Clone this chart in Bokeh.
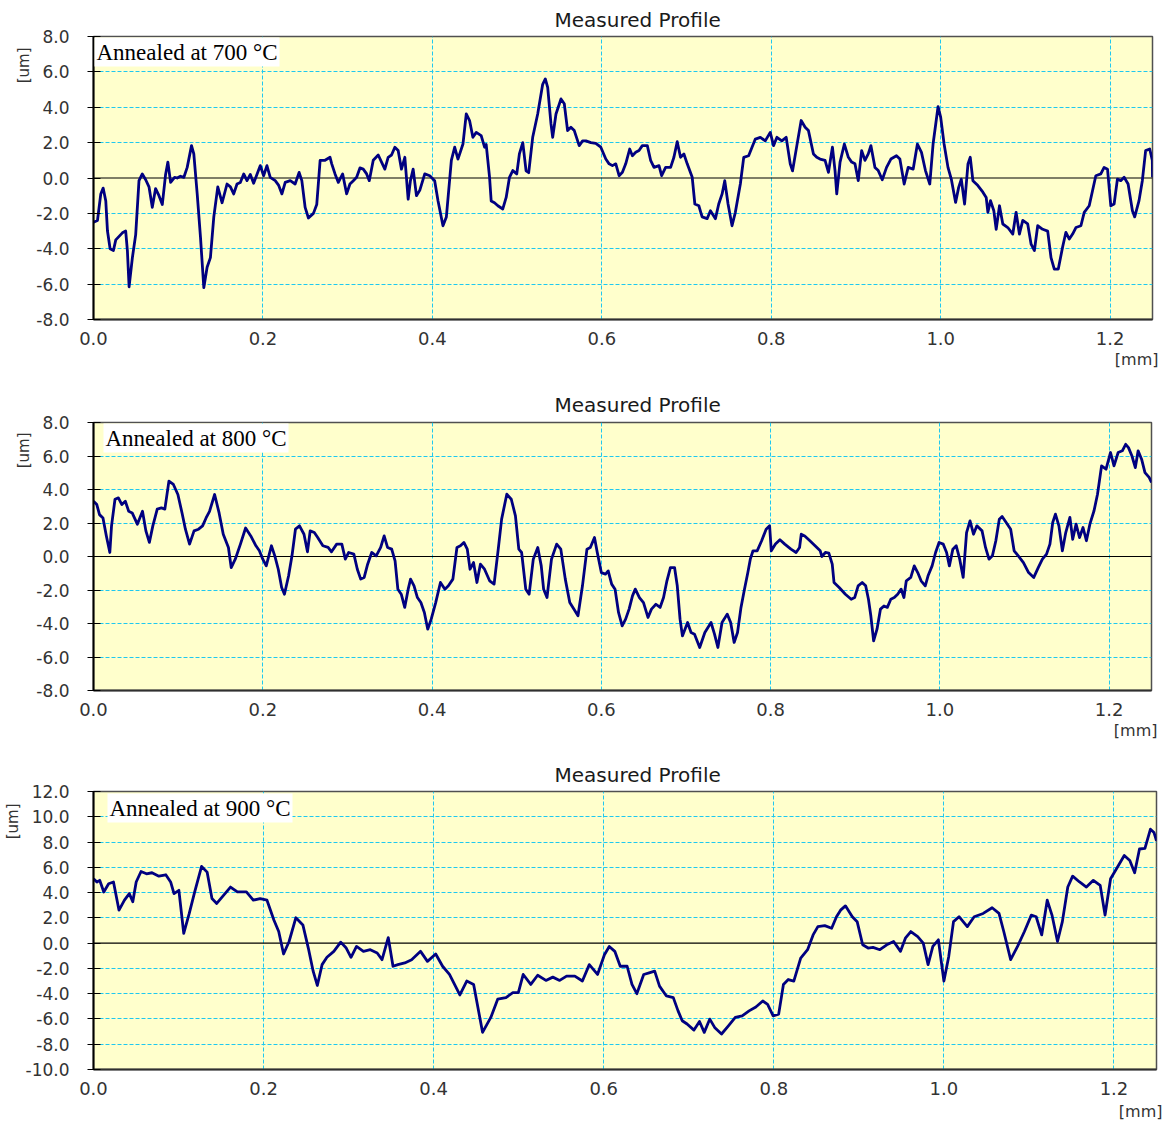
from bokeh.embed import file_html
from bokeh.layouts import column
from bokeh.models import FixedTicker, Label, PrintfTickFormatter, Range1d, Span, Title
from bokeh.plotting import figure
from bokeh.resources import INLINE

# ---- surface profiles, height [um] against distance [mm] ----

x700 = [0.0, 0.0047, 0.0086, 0.0114, 0.0145, 0.0165, 0.0196, 0.0235, 0.0263, 0.0302,
        0.0341, 0.038, 0.04, 0.042, 0.0459, 0.0498, 0.0537, 0.0576, 0.0616, 0.0655,
        0.0694, 0.0733, 0.0773, 0.0812, 0.0851, 0.0878, 0.091, 0.0957, 0.0988, 0.1027,
        0.1067, 0.1106, 0.1157, 0.1184, 0.1224, 0.1263, 0.1302, 0.1341, 0.138, 0.142,
        0.1467, 0.1518, 0.1576, 0.1616, 0.1655, 0.1694, 0.1733, 0.1773, 0.1812, 0.1851,
        0.189, 0.1929, 0.1969, 0.2008, 0.2047, 0.2086, 0.2145, 0.2184, 0.2224, 0.2263,
        0.2322, 0.238, 0.2427, 0.2459, 0.2498, 0.2537, 0.2596, 0.2635, 0.2675, 0.2733,
        0.2792, 0.2812, 0.2851, 0.289, 0.2941, 0.2988, 0.3027, 0.3067, 0.3106, 0.3145,
        0.3184, 0.3224, 0.3255, 0.3302, 0.3361, 0.34, 0.3439, 0.3478, 0.3518, 0.3557,
        0.3596, 0.3635, 0.3675, 0.3714, 0.3741, 0.3773, 0.3812, 0.3851, 0.391, 0.3969,
        0.4027, 0.4067, 0.4125, 0.4165, 0.4224, 0.4263, 0.4302, 0.4361, 0.44, 0.4439,
        0.4478, 0.4518, 0.4576, 0.4616,
        0.4635, 0.4675, 0.4694, 0.4733, 0.4773, 0.4831, 0.4871, 0.491, 0.4949, 0.4996,
        0.5027, 0.5067, 0.5106, 0.5137, 0.5184, 0.5243, 0.5302, 0.5333, 0.5361, 0.54,
        0.542, 0.5459, 0.5518, 0.5557, 0.5596, 0.5635, 0.5675, 0.5733, 0.5773, 0.5812,
        0.5871, 0.5929, 0.5988, 0.6047, 0.6086, 0.6125, 0.6165, 0.6204, 0.6243, 0.6282,
        0.6329, 0.6361, 0.64, 0.6439, 0.6478, 0.6537, 0.6576, 0.6616, 0.6675, 0.6706,
        0.6753, 0.6812, 0.6851, 0.689, 0.6929, 0.6969, 0.7008, 0.7067, 0.7098, 0.7145,
        0.7184, 0.7243, 0.7282, 0.7341, 0.738, 0.742, 0.7451, 0.749, 0.7537, 0.7576,
        0.7635, 0.7675, 0.7733, 0.7773, 0.7812, 0.7871, 0.7929, 0.7988, 0.8027, 0.8067,
        0.8125, 0.8176, 0.8224, 0.8251, 0.8302, 0.8353, 0.84, 0.8439, 0.8498, 0.8537,
        0.8576, 0.8635, 0.8675, 0.8722, 0.8753, 0.8773, 0.8812, 0.8863, 0.891, 0.8949,
        0.8988,
        0.9027, 0.9067, 0.9106, 0.9145, 0.9176, 0.9224, 0.9263, 0.931, 0.9361, 0.9412,
        0.9478, 0.9518, 0.9569, 0.9616, 0.9675, 0.9725, 0.9773, 0.982, 0.9871, 0.991,
        0.9969, 1.0, 1.004, 1.0086, 1.0125, 1.0176, 1.0212, 1.0243, 1.0282, 1.0322,
        1.0349, 1.038, 1.0439, 1.0498, 1.0537, 1.0557, 1.0588, 1.0627, 1.0655, 1.0694,
        1.0733, 1.0792, 1.0851, 1.089, 1.0929, 1.0969, 1.1027, 1.1067, 1.1106, 1.1145,
        1.1204, 1.1263, 1.1302, 1.1341, 1.1388, 1.1439, 1.1478, 1.1518, 1.1557, 1.1596,
        1.1655, 1.1694, 1.1753, 1.1792, 1.1831, 1.189, 1.1929, 1.1969, 1.2008, 1.2047,
        1.2086, 1.2125, 1.2165, 1.2212, 1.2263, 1.229, 1.2341, 1.238, 1.2419, 1.2467,
        1.2498, 1.25]
y700 = [-2.5, -2.4, -0.9, -0.57, -1.3, -3.0, -4.0, -4.1, -3.5, -3.3,
        -3.1, -3.0, -4.1, -6.15, -4.5, -3.2, -0.15, 0.23, -0.1, -0.5,
        -1.66, -0.6, -1.0, -1.5, 0.2, 0.9, -0.25, 0.04, 0.0, 0.1,
        0.04, 0.6, 1.83, 1.36, -0.9, -3.36, -6.2, -5.05, -4.5, -2.2,
        -0.5, -1.4, -0.34, -0.5, -0.9, -0.34, -0.25, 0.23, -0.15, 0.2,
        -0.3, 0.2, 0.7, 0.13, 0.7, 0.04, -0.15, -0.4, -0.9, -0.25,
        -0.15, -0.34, 0.32, -0.15, -1.66, -2.26, -2.0, -1.5, 1.0, 1.0,
        1.17, 0.8, 0.23, -0.25, 0.23, -0.9, -0.34, -0.15, 0.04, 0.57,
        0.5, 0.23, -0.15, 1.0, 1.3, 0.9, 0.5, 1.17, 1.3, 1.74,
        1.55, 0.5, 1.17, -1.2, -0.15, 0.5, -1.0, -0.7, 0.23, 0.13,
        -0.15, -1.3, -2.7, -2.2, 1.0, 1.74, 1.07, 1.92, 3.62, 3.25,
        2.3, 2.58, 2.4, 1.74,
        1.9, 0.04, -1.3, -1.4, -1.57, -1.75, -1.1, 0.04, 0.42, 0.23,
        1.36, 2.0, 0.4, 0.3, 2.3, 3.62, 5.3, 5.6, 5.13, 3.06,
        2.3, 3.62, 4.47, 4.2, 2.68, 2.87, 2.68, 1.83, 2.1, 2.1,
        2.0, 1.96, 1.74, 1.07, 0.8, 0.7, 0.8, 0.13, 0.32, 0.8,
        1.64, 1.26, 1.45, 1.55, 1.83, 1.83, 1.0, 0.6, 0.7, 0.13,
        0.6, 0.6, 1.17, 2.05, 1.17, 1.36, 0.8, 0.04, -1.47, -1.57,
        -2.2, -2.3, -1.85, -2.3, -1.47, -0.9, -0.15, -1.47, -2.7, -1.94,
        -0.34, 1.17, 1.26, 1.74, 2.2, 2.3, 2.1, 2.58, 1.83, 2.3,
        2.1, 2.3, 0.8, 0.4, 1.83, 3.25, 2.87, 2.68, 1.36, 1.17,
        1.07, 1.0, 0.32, 1.74, 0.4, -0.9, 0.9, 1.92, 1.17, 0.9,
        0.8,
        -0.15, 1.55, 1.0, 1.36, 1.83, 0.6, 0.42, -0.1, 0.6, 1.07,
        1.26, 1.07, -0.34, 0.6, 0.5, 1.92, 1.45, 0.42, -0.34, 1.92,
        4.04, 3.43, 1.92, 0.6, -0.06, -1.38, -0.53, -0.06, -1.47, 0.8,
        1.17, -0.15, -0.43, -0.8, -1.1, -1.94, -1.28, -1.85, -2.9, -1.57,
        -2.6, -2.8, -3.17, -1.94, -3.17, -2.4, -2.6, -3.74, -4.1, -2.7,
        -2.9, -3.0, -4.5, -5.15, -5.15, -3.9, -3.07, -3.45, -3.17, -2.8,
        -2.7, -1.94, -1.57, -0.72, 0.13, 0.23, 0.6, 0.5, -1.57, -1.47,
        -0.06, -0.15, 0.04, -0.34, -1.85, -2.2, -1.28, -0.15, 1.55, 1.64,
        1.0, 0.04]

x800 = [0.0, 0.0039, 0.0071, 0.0112, 0.0152, 0.0193, 0.0213, 0.0254, 0.0294, 0.0335,
        0.0376, 0.0416, 0.0457, 0.0518, 0.0579, 0.0619, 0.066, 0.0701, 0.0753, 0.0802,
        0.0843, 0.0891, 0.0944, 0.0997, 0.1046, 0.1086, 0.1135, 0.1188, 0.1241, 0.1289,
        0.133, 0.1371, 0.1431, 0.1484, 0.1533, 0.1594, 0.1627, 0.1675, 0.1736, 0.1797,
        0.1858, 0.1919, 0.196, 0.2, 0.2041, 0.2102, 0.2142, 0.2183, 0.2223, 0.2256,
        0.2305, 0.2345, 0.2386, 0.2434, 0.2487, 0.2528, 0.256, 0.2609, 0.2649, 0.271,
        0.2772, 0.2812, 0.2873, 0.2934, 0.2975, 0.3015, 0.3076, 0.3117, 0.3157, 0.3198,
        0.3239, 0.3287, 0.334, 0.3393, 0.3434, 0.3474, 0.3523, 0.3563, 0.3596, 0.3636,
        0.3677, 0.3718, 0.3746, 0.3787, 0.3827, 0.3868, 0.3909, 0.3949, 0.399, 0.4043,
        0.4099, 0.4152, 0.4193, 0.4246, 0.4294, 0.4335, 0.4376, 0.4416, 0.4449, 0.449,
        0.453, 0.4571, 0.462, 0.468, 0.4733, 0.4782, 0.4822, 0.4883, 0.4936, 0.4985,
        0.5025, 0.5058, 0.5107, 0.5147, 0.5196, 0.5249, 0.529, 0.5318, 0.5358, 0.5411,
        0.5472, 0.5521, 0.5574, 0.5627, 0.5675, 0.5724, 0.5777, 0.583, 0.587, 0.5919,
        0.5952, 0.6, 0.6049, 0.6081, 0.6122, 0.6162, 0.6203,
        0.6246, 0.6287, 0.6328, 0.6368, 0.6401, 0.645, 0.6498, 0.6551, 0.6592, 0.6645,
        0.6694, 0.6735, 0.6775, 0.6816, 0.6865, 0.6897, 0.693, 0.6958, 0.7019, 0.706,
        0.7101, 0.7162, 0.7223, 0.7296, 0.7337, 0.7377, 0.7426, 0.7487, 0.7528, 0.7569,
        0.7609, 0.765, 0.7691, 0.7731, 0.776, 0.7792, 0.7841, 0.7894, 0.7947, 0.7988,
        0.8008, 0.8057, 0.811, 0.8167, 0.824, 0.8301, 0.8342, 0.8362, 0.8403, 0.8464,
        0.8525, 0.8586, 0.8606, 0.8647, 0.8688, 0.8728, 0.8749, 0.881, 0.8883, 0.8952,
        0.8993, 0.9034, 0.9082, 0.9123, 0.9156, 0.9184, 0.9217, 0.9257, 0.9298, 0.9339,
        0.9379, 0.942, 0.9461, 0.9501, 0.9542, 0.9575, 0.9603, 0.9656, 0.9697, 0.9738,
        0.9778, 0.9827, 0.986, 0.9908, 0.9949, 0.999, 1.0039, 1.0079, 1.0112, 1.0153,
        1.0193, 1.0234, 1.0275, 1.0315, 1.0356, 1.0397, 1.0437, 1.0498, 1.0539, 1.058,
        1.062, 1.0661, 1.0702, 1.0735, 1.0783, 1.0836, 1.0877, 1.0926, 1.0987, 1.1048,
        1.1109, 1.1162, 1.1211, 1.126, 1.13, 1.1333, 1.1365, 1.1406, 1.1447, 1.1487,
        1.1536, 1.1569, 1.1609, 1.165, 1.1691, 1.1731, 1.1772, 1.1821, 1.1862, 1.191,
        1.1963, 1.2016, 1.2057, 1.2106, 1.2155, 1.2195, 1.2228, 1.2269, 1.2309, 1.2342,
        1.2383, 1.2423, 1.2472, 1.25]
y800 = [3.3, 3.1, 2.5, 2.3, 1.23, 0.24, 1.83, 3.42, 3.5, 3.1,
        3.3, 2.7, 2.6, 1.93, 2.7, 1.53, 0.84, 1.83, 2.83, 2.9,
        2.83, 4.5, 4.3, 3.7, 2.6, 1.63, 0.74, 1.53, 1.63, 1.83,
        2.3, 2.7, 3.7, 2.6, 1.33, 0.54, -0.66, -0.16, 0.74, 1.7,
        1.23, 0.64, 0.34, -0.16, -0.56, 0.64, 0.04, -0.76, -1.85, -2.25,
        -1.15, 0.04, 1.63, 1.83, 1.33, 0.28, 1.53, 1.43, 1.13, 0.64,
        0.54, 0.28, 0.74, 0.74, -0.16, 0.24, 0.14, -0.76, -1.35, -1.25,
        -0.46, 0.24, 0.04, 0.54, 1.23, 0.54, 0.44, -0.26, -1.95, -2.25,
        -3.04, -1.95, -1.35, -1.75, -2.45, -2.75, -3.34, -4.34, -3.74, -2.75,
        -1.55, -1.95, -1.75, -1.35, 0.54, 0.64, 0.84, 0.44, -0.76, -0.36,
        -1.55, -0.46, -0.76, -1.45, -1.65, 0.44, 2.23, 3.72, 3.42, 2.43,
        0.44, 0.24, -1.95, -2.25, -0.16, 0.54, -0.56, -1.95, -2.45, -0.16,
        0.74, 0.44, -1.35, -2.75, -3.14, -3.54, -1.75, 0.44, 0.54, 1.13,
        0.24, -0.96, -1.05, -0.86, -1.65, -1.95, -3.34,
        -4.14, -3.74, -3.14, -2.35, -1.95, -2.45, -2.75, -3.64, -3.14, -2.85,
        -3.04, -2.45, -1.45, -0.66, -0.66, -1.75, -3.74, -4.74, -3.94, -4.54,
        -4.64, -5.43, -4.54, -3.94, -4.64, -5.43, -3.94, -3.44, -3.94, -5.13,
        -4.54, -3.04, -1.95, -0.96, -0.16, 0.34, 0.34, 0.94, 1.63, 1.83,
        0.34, 0.74, 1.0, 0.74, 0.44, 0.24, 0.54, 1.33, 1.23, 0.94,
        0.64, 0.34, 0.0, 0.24, 0.2, -0.46, -1.55, -1.85, -2.25, -2.55,
        -2.45, -1.75, -1.55, -1.75, -2.55, -3.54, -5.03, -4.34, -3.14, -2.95,
        -3.04, -2.55, -2.45, -2.25, -1.95, -2.45, -1.45, -1.25, -0.56, -0.96,
        -1.45, -1.75, -1.15, -0.56, 0.24, 0.84, 0.74, 0.24, -0.56, 0.44,
        0.64, -0.16, -1.25, 1.43, 2.13, 1.33, 1.83, 1.53, 0.54, -0.16,
        0.04, 0.94, 2.23, 2.39, 2.03, 1.63, 0.34, 0.04, -0.36, -0.96,
        -1.25, -0.66, -0.16, 0.14, 0.74, 2.03, 2.53, 1.83, 0.34, 1.43,
        2.33, 1.03, 1.93, 1.13, 1.73, 0.94, 1.93, 2.73, 3.72, 5.41,
        5.21, 6.21, 5.41, 6.21, 6.31, 6.7, 6.5, 6.0, 5.31, 6.31,
        5.81, 5.01, 4.72, 4.42]

x900 = [0.0, 0.004, 0.0073, 0.0121, 0.0178, 0.0235, 0.03, 0.0364, 0.0421, 0.0462,
        0.0502, 0.0559, 0.0623, 0.0688, 0.0769, 0.085, 0.0907, 0.0947, 0.1004, 0.1061,
        0.1126, 0.119, 0.1271, 0.1336, 0.1393, 0.1449, 0.1514, 0.1611, 0.1692, 0.1798,
        0.1879, 0.196, 0.204, 0.2121, 0.2178, 0.2235, 0.23, 0.238, 0.2462, 0.2526,
        0.2583, 0.2632, 0.2688, 0.2745, 0.2826, 0.2907, 0.2972, 0.3028, 0.3093, 0.3174,
        0.3255, 0.3336, 0.3393, 0.3466, 0.3522, 0.3579, 0.366, 0.3741, 0.3846, 0.3927,
        0.4024, 0.4105, 0.4186, 0.4308, 0.4389, 0.447, 0.4575, 0.4672, 0.4753, 0.485,
        0.4931, 0.4996, 0.5053, 0.5142, 0.5223, 0.532, 0.5401, 0.5482, 0.5563, 0.566,
        0.5749, 0.583, 0.5927, 0.6008, 0.6065, 0.613, 0.6194, 0.6275, 0.6332, 0.6389,
        0.647, 0.6534, 0.6599, 0.6656, 0.6737, 0.6818, 0.6874, 0.6923, 0.698, 0.7061,
        0.7126, 0.7182, 0.7247, 0.7304, 0.7385, 0.7466, 0.7547, 0.7628, 0.7709, 0.7789,
        0.787, 0.7927, 0.7992, 0.8057, 0.8113, 0.817, 0.8235, 0.8316, 0.8397, 0.8462,
        0.8518, 0.8599, 0.868, 0.8737, 0.8785, 0.8842, 0.8923, 0.898, 0.9045, 0.9109,
        0.9166, 0.9247, 0.9328, 0.9409, 0.949, 0.9547, 0.9611, 0.9692, 0.9757, 0.9814,
        0.987, 0.9935, 1.0, 1.0057, 1.0113, 1.0178, 1.0275, 1.0356, 1.0462, 1.0567,
        1.0648, 1.0704, 1.0785, 1.0866, 1.0947, 1.1028, 1.1085, 1.115, 1.1215, 1.1271,
        1.1336, 1.1393, 1.1457, 1.1514, 1.1595, 1.1676, 1.1757, 1.1838, 1.1895, 1.196,
        1.204, 1.2121, 1.2186, 1.2243, 1.23, 1.2364, 1.2429, 1.247, 1.25]
y900 = [5.1, 4.84, 4.97, 4.05, 4.7, 4.84, 2.61, 3.4, 3.92, 3.27,
        4.84, 5.67, 5.49, 5.57, 5.3, 5.41, 4.84, 3.92, 4.18, 0.78,
        2.35, 4.05, 6.07, 5.62, 3.53, 3.14, 3.66, 4.44, 4.05, 4.05,
        3.4, 3.53, 3.4, 1.83, 0.92, -0.86, 0.13, 2.01, 1.44, -0.39,
        -2.22, -3.35, -1.7, -1.12, -0.65, 0.08, -0.39, -1.12, -0.26, -0.65,
        -0.52, -0.78, -1.31, 0.44, -1.83, -1.7, -1.57, -1.31, -0.65, -1.44,
        -0.86, -1.83, -2.48, -4.1, -3.0, -3.27, -7.06, -5.88, -4.44, -4.31,
        -3.92, -3.92, -2.48, -3.27, -2.54, -2.95, -2.69, -2.95, -2.61, -2.61,
        -3.0, -1.7, -2.48, -0.92, -0.26, -0.65, -1.83, -1.83, -3.27, -4.0,
        -2.48, -2.35, -2.22, -3.4, -4.18, -4.31, -5.36, -6.14, -6.4, -6.88,
        -6.2, -7.06, -6.01, -6.67, -7.19, -6.54, -5.88, -5.75, -5.36, -5.05,
        -4.58, -4.84, -5.75, -5.62, -3.27, -2.88, -3.0, -1.18, -0.52, 0.65,
        1.31, 1.39, 1.18, 2.09, 2.61, 2.95, 2.09, 1.7, -0.13, -0.39,
        -0.34, -0.52, -0.13, 0.13, -0.65, 0.39, 0.92, 0.52, 0.0, -1.7,
        -0.26, 0.26, -3.0, -1.05, 1.7, 2.09, 1.31, 2.09, 2.35, 2.8,
        2.35, 0.92, -1.31, -0.26, 0.92, 2.22, 2.09, 0.65, 3.4, 2.22,
        0.13, 1.7, 4.44, 5.3, 4.84, 4.44, 4.97, 4.57, 2.22, 5.1,
        6.01, 6.93, 6.54, 5.57, 7.45, 7.5, 9.02, 8.76, 8.1]

# ---- axis ticks and panel captions ----
x_ticks = [0.0, 0.2, 0.4, 0.6, 0.8, 1.0, 1.2]
y_ticks_8 = [-8, -6, -4, -2, 0, 2, 4, 6, 8]
y_ticks_12 = [-10, -8, -6, -4, -2, 0, 2, 4, 6, 8, 10, 12]
captions = ["Annealed at 700 \u00b0C", "Annealed at 800 \u00b0C", "Annealed at 900 \u00b0C"]
title_text = "Measured Profile"
x_unit = "[mm]"
y_unit = "[um]"

SANS = "DejaVu Sans"
SERIF = "Liberation Serif"
TICK_COLOR = "#333333"
GRID_COLOR = "#1EC8F0"
LEFT = 90


def side_text(text, size, align, offset, standoff, color=TICK_COLOR):
    return Title(text=text, align=align, offset=offset, standoff=standoff,
                 text_font=SANS, text_font_size=size, text_font_style="normal",
                 text_color=color)


def profile_panel(xs, ys, caption, y_lo, y_hi, y_ticks, top, fw, fh, right, bottom,
                  cap_dx, cap_dy, um_offset, mm_standoff, title_standoff):
    p = figure(frame_width=fw, frame_height=fh,
               min_border_left=LEFT, min_border_right=right,
               min_border_top=top, min_border_bottom=bottom,
               x_range=Range1d(0, 1.25), y_range=Range1d(y_lo, y_hi),
               output_backend="svg", toolbar_location=None,
               background_fill_color="#FFFFCC", border_fill_color="white",
               outline_line_color="#505050", outline_line_width=1.5)

    # title, placed slightly right of the frame centre
    p.title = side_text(title_text, "20px", "left", 461, title_standoff, "#1a1a1a")

    # dashed cyan grid; the zero level gets a solid black line instead
    p.xgrid.ticker = FixedTicker(ticks=x_ticks[1:])
    p.ygrid.ticker = FixedTicker(ticks=[t for t in y_ticks if t != 0])
    for g in (p.xgrid, p.ygrid):
        g.grid_line_color = GRID_COLOR
        g.grid_line_width = 1
        g.grid_line_dash = "4 2"

    xa = p.xaxis[0]
    xa.ticker = FixedTicker(ticks=x_ticks)
    xa.formatter = PrintfTickFormatter(format="%.1f")
    xa.major_tick_line_color = None
    xa.minor_tick_line_color = None
    xa.major_tick_out = 0
    xa.major_tick_in = 0
    xa.major_label_standoff = 12
    xa.major_label_text_font = SANS
    xa.major_label_text_font_size = "18px"
    xa.major_label_text_color = TICK_COLOR
    xa.axis_line_color = "#303030"
    xa.axis_line_width = 2

    ya = p.yaxis[0]
    ya.ticker = FixedTicker(ticks=y_ticks)
    ya.formatter = PrintfTickFormatter(format="%.1f")
    ya.minor_tick_line_color = None
    ya.major_tick_line_color = "black"
    ya.major_tick_line_width = 1.2
    ya.major_tick_out = 6
    ya.major_tick_in = 7
    ya.major_label_standoff = 18
    ya.major_label_text_font = SANS
    ya.major_label_text_font_size = "17px"
    ya.major_label_text_color = TICK_COLOR
    ya.axis_line_color = "black"
    ya.axis_line_width = 2

    p.add_layout(Span(location=0, dimension="width", line_color="black",
                      line_width=1.2, level="underlay"))

    p.line(xs, ys, line_color="#000080", line_width=2.8, line_join="round")

    # unit captions: [um] near the top of the y axis, [mm] at the right end of the x axis
    p.add_layout(side_text(y_unit, "15px", "right", um_offset, 2), "left")
    p.add_layout(side_text(x_unit, "16px", "right", -6, mm_standoff), "below")

    p.add_layout(Label(x=0, y=y_hi, x_offset=cap_dx, y_offset=-cap_dy, text=caption,
                       text_align="left", text_baseline="top",
                       text_font=SERIF, text_font_size="23px", text_color="black",
                       background_fill_color="white", padding=2))
    return p


p1 = profile_panel(x700, y700, captions[0], -8, 8, y_ticks_8,
                   36, 1059, 283, 20, 61, 1, 1, 11, 0, 10)
p2 = profile_panel(x800, y800, captions[1], -8, 8, y_ticks_8,
                   42, 1058, 268, 21, 60, 10, 1, 10, 0, 12)
p3 = profile_panel(x900, y900, captions[2], -10, 12, y_ticks_12,
                   41, 1063, 278, 16, 57, 14, 2, 12, 4, 10)

layout = column(p1, p2, p3, spacing=0)
open("out.html", "w").write(file_html(layout, INLINE))
